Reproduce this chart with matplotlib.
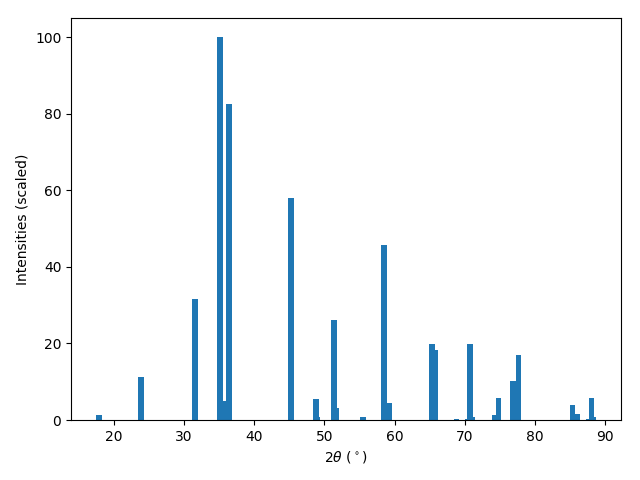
import matplotlib
matplotlib.use('Agg')
import matplotlib.pyplot as plt
import numpy as np

# Peak positions (2 theta, degrees) and scaled intensities
two_theta = [17.83, 23.85, 31.52, 35.11, 35.75, 36.40, 45.21, 48.77, 48.97,
             51.34, 51.68, 55.50, 58.49, 59.24, 65.31, 65.80, 68.83, 70.44,
             70.76, 71.07, 74.29, 74.82, 76.86, 77.71, 85.41, 86.04, 87.69,
             88.12, 88.31]
intensities = [1.2, 11.2, 31.6, 100.0, 5.0, 82.6, 58.1, 5.4, 0.8,
               26.1, 3.1, 0.7, 45.7, 4.4, 19.9, 18.3, 0.3, 0.3,
               19.9, 0.8, 1.3, 5.8, 10.2, 17.0, 3.9, 1.6, 0.3,
               5.8, 0.8]

x = np.array(two_theta)
y = np.array(intensities)

# weak peaks drawn first so strong ones sit on top
order = np.argsort(y)

fig, ax = plt.subplots(figsize=(6.4, 4.8), dpi=100)
ax.bar(x[order], y[order], width=0.8)
ax.set_xlabel(r'$2\theta$ ($^\circ$)')
ax.set_ylabel('Intensities (scaled)')
fig.subplots_adjust(left=0.111, right=0.970, bottom=0.125, top=0.9625)
fig.savefig('out.png')
